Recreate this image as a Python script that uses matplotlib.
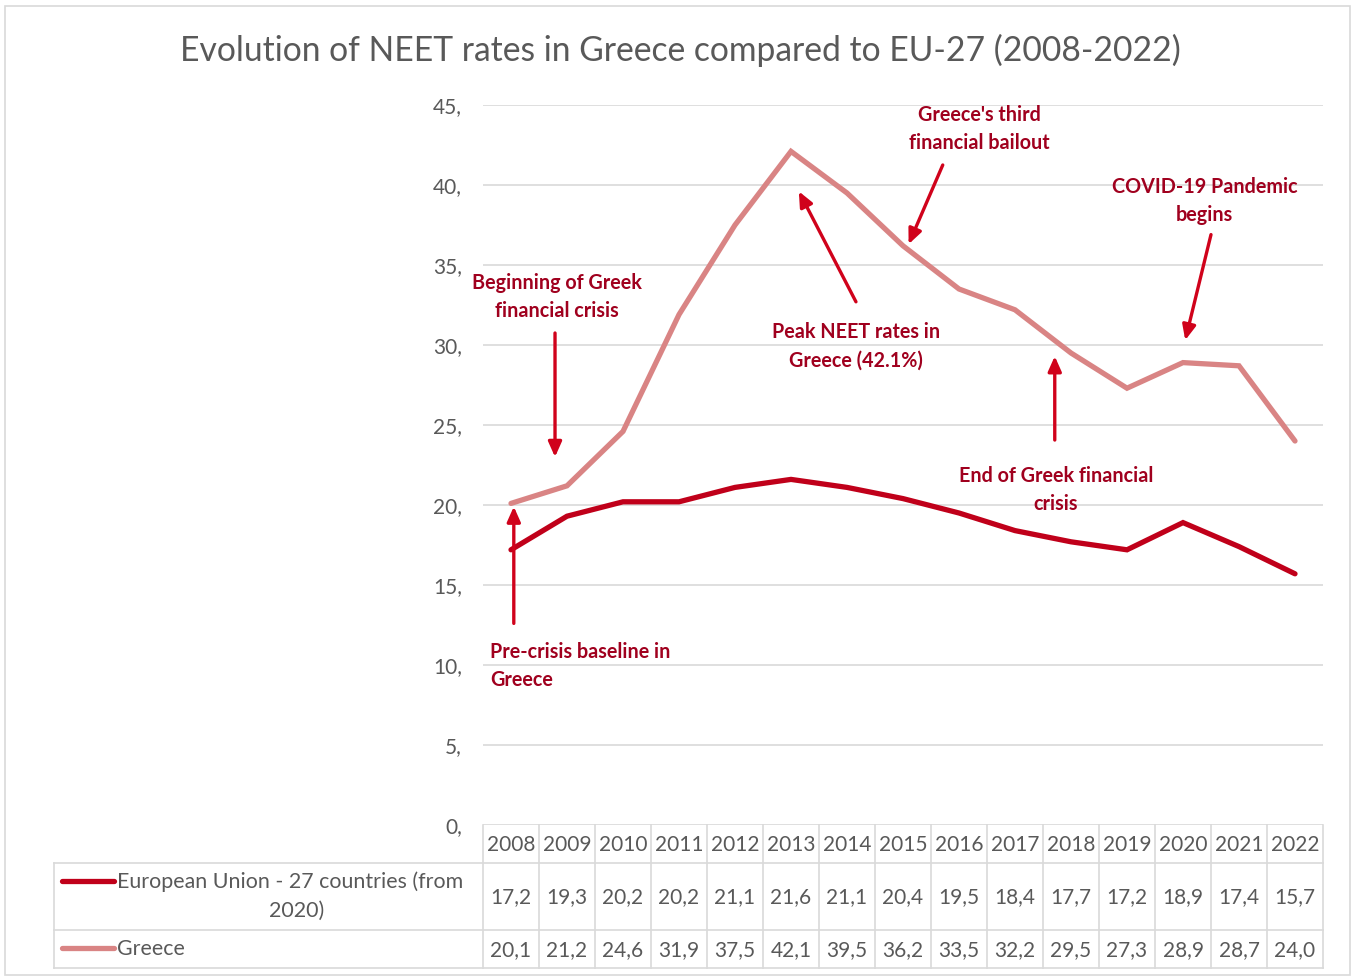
import matplotlib.pyplot as plt
from matplotlib.patches import Rectangle
from matplotlib.lines import Line2D

plt.rcParams['font.family'] = ['Lato', 'DejaVu Sans']

# Datos
years = ['2008', '2009', '2010', '2011', '2012', '2013', '2014', '2015',
         '2016', '2017', '2018', '2019', '2020', '2021', '2022']
eu27 = [17.2, 19.3, 20.2, 20.2, 21.1, 21.6, 21.1, 20.4, 19.5, 18.4, 17.7, 17.2, 18.9, 17.4, 15.7]
greece = [20.1, 21.2, 24.6, 31.9, 37.5, 42.1, 39.5, 36.2, 33.5, 32.2, 29.5, 27.3, 28.9, 28.7, 24.0]
series_names = ['European Union - 27 countries (from\n2020)', 'Greece']
yticks = [0, 5, 10, 15, 20, 25, 30, 35, 40, 45]

GRAY = '#595959'
GRID = '#D9D9D9'
EU_COL = '#C0001A'
GR_COL = '#D98484'
ARROW = '#D0021B'
NOTE = '#A0001E'

W, H = 1353, 977
fig = plt.figure(figsize=(W / 100, H / 100), dpi=100)

# marco del grafico
fig.patches.append(Rectangle((5 / W, 1 - 975 / H), 1345 / W, 969 / H, transform=fig.transFigure,
                             fill=False, edgecolor=GRID, lw=1.2))

ax = fig.add_axes([483 / W, 1 - 825 / H, 840 / W, 720 / H])
x = list(range(len(years)))
ax.plot(x, eu27, color=EU_COL, lw=3.8, solid_capstyle='round', solid_joinstyle='miter', zorder=3)
ax.plot(x, greece, color=GR_COL, lw=3.8, solid_capstyle='round', solid_joinstyle='miter', zorder=3)

ax.set_xlim(-0.5, len(years) - 0.5)
ax.set_ylim(0, 45)
ax.set_yticks(yticks)
ax.set_yticklabels([f'{v},' for v in yticks])
ax.tick_params(axis='y', length=0, pad=15, labelsize=15, labelcolor=GRAY)
ax.set_xticks([])
for v in yticks:
    ax.axhline(v, color=GRID, lw=1.2, zorder=1)
for s in ax.spines.values():
    s.set_visible(False)

fig.text(680 / W, 1 - 50 / H, 'Evolution of NEET rates in Greece compared to EU-27 (2008-2022)',
         ha='center', va='center', fontsize=24.2, color=GRAY)

# Anotaciones
notes = [
    ('Beginning of Greek\nfinancial crisis', (0.82, 33.0), 'center', (0.786, 30.75), (0.786, 23.0)),
    ('Pre-crisis baseline in\nGreece', (-0.375, 9.94), 'left', (0.05, 12.6), (0.05, 19.9)),
    ('Peak NEET rates in\nGreece (42.1%)', (6.16, 29.94), 'center', (6.16, 32.7), (5.14, 39.6)),
    ("Greece's third\nfinancial bailout", (8.36, 43.5), 'center', (7.71, 41.25), (7.1, 36.3)),
    ('COVID-19 Pandemic\nbegins', (12.39, 39.0), 'center', (12.5, 36.9), (12.04, 30.3)),
    ('End of Greek financial\ncrisis', (9.73, 20.94), 'center', (9.71, 24.06), (9.71, 29.3)),
]
for txt, pos, ha, start, end in notes:
    ax.text(pos[0], pos[1], txt, ha=ha, va='center', fontsize=14.2, fontweight='bold',
            color=NOTE, linespacing=1.55, zorder=5)
    ax.annotate('', xy=end, xytext=start,
                arrowprops=dict(arrowstyle='-|>,head_length=0.9,head_width=0.4',
                                color=ARROW, lw=2.4, shrinkA=0, shrinkB=0), zorder=5)

# Tabla de datos
xfig = ax.get_xaxis_transform()  # x en datos, y en fraccion del eje
def yfrac(py):
    return (825 - py) / 720.0

line_kw = dict(color=GRID, lw=1.2, clip_on=False)
# lineas verticales de columnas
for i in range(len(years) + 1):
    ax.add_line(Line2D([i - 0.5, i - 0.5], [yfrac(825), yfrac(968)], transform=xfig, **line_kw))
# lineas horizontales
for py in (863, 930, 968):
    fig.add_artist(Line2D([54 / W, 1323 / W], [1 - py / H, 1 - py / H], transform=fig.transFigure,
                          color=GRID, lw=1.2))
fig.add_artist(Line2D([54 / W, 54 / W], [1 - 863 / H, 1 - 968 / H], transform=fig.transFigure,
                      color=GRID, lw=1.2))

cell_kw = dict(ha='center', va='center', fontsize=15, color=GRAY, transform=xfig, clip_on=False)
for i, yr in enumerate(years):
    ax.text(i, yfrac(845), yr, **cell_kw)
    ax.text(i, yfrac(897), f'{eu27[i]:.1f}'.replace('.', ','), **cell_kw)
    ax.text(i, yfrac(950), f'{greece[i]:.1f}'.replace('.', ','), **cell_kw)

# leyenda dentro de la tabla
for py, col in ((881, EU_COL), (948, GR_COL)):
    fig.add_artist(Line2D([62 / W, 114 / W], [1 - py / H, 1 - py / H], transform=fig.transFigure,
                          color=col, lw=3.8, solid_capstyle='round'))
first, second = series_names[0].split('\n')
leg_kw = dict(va='center', fontsize=15.4, color=GRAY)
fig.text(117 / W, 1 - 882 / H, first, ha='left', **leg_kw)
fig.text(297 / W, 1 - 911 / H, second, ha='center', **leg_kw)
fig.text(117 / W, 1 - 949 / H, series_names[1], ha='left', **leg_kw)

plt.savefig('out.png', dpi=100)
